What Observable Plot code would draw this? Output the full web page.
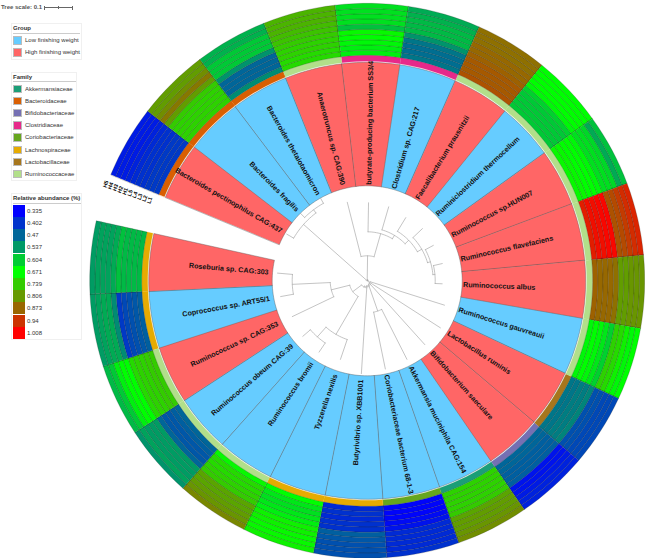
<!DOCTYPE html>
<html>
<head>
<meta charset="utf-8">
<script src="https://cdn.jsdelivr.net/npm/d3@7"></script>
<script src="https://cdn.jsdelivr.net/npm/@observablehq/plot@0.6"></script>
<style>
html,body{margin:0;padding:0;background:#fff}
#wrap{position:relative;width:645px;height:558px;overflow:hidden;font-family:"Liberation Sans",Arial,sans-serif}
#wrap svg{position:absolute;left:0;top:0}
.lg{position:absolute;color:#333;font-size:6px;line-height:1;white-space:nowrap}
.box{position:absolute;border:1px solid #f0f0f0;box-sizing:border-box}
.rule{position:absolute;height:1px;background:#ccc}
.sw{position:absolute;box-sizing:border-box;border:1px solid #bbb}
</style>
</head>
<body>
<div id="wrap"></div>
<script>
// ---------- data ----------
const species = ["Bacteroides pectinophilus CAG:437","Bacteroides fragilis","Bacteroides thetaiotaomicron","Anaerotruncus sp. CAG:390","butyrate-producing bacterium SS3/4","Clostridium sp. CAG:217","Faecalibacterium prausnitzii","Ruminiclostridium thermocellum","Ruminococcus sp.HUN007","Ruminococcus flavefaciens","Ruminococcus albus","Ruminococcus gauvreauii","Lactobacillus ruminis","Bifidobacterium saeculare","Akkermansia muciniphila CAG:154","Coriobacteriaceae bacterium 68-1-3","Butyrivibrio sp. XBB1001","Tyzzerella nexilis","Ruminococcus bromii","Ruminococcus obeum CAG:39","Ruminococcus sp. CAG:353","Coprococcus sp. ART55/1","Roseburia sp. CAG:303"];
const groupNames = ["Low finishing weight","High finishing weight"];
const groupColors = ["#66ccff","#ff6666"];
const groupOf = [1,0,0,1,1,0,1,0,1,1,1,0,1,1,0,0,0,0,0,0,1,0,1];
const familyNames = ["Akkermansiaceae","Bacteroidaceae","Bifidobacteriaceae","Clostridiaceae","Coriobacteriaceae","Lachnospiraceae","Lactobacillaceae","Ruminococcaceae"];
const familyColors = ["#1b9e77","#d95f02","#7570b3","#e7298a","#66a61e","#e6ab02","#a6761d","#b2df8a"];
const familyOf = [1,1,1,7,3,3,7,7,7,7,7,7,6,2,0,4,5,5,7,7,7,5,5];
const abundanceTicks = [0.335,0.402,0.47,0.537,0.604,0.671,0.739,0.806,0.873,0.94,1.008];
const abundanceColors = ["#0000ff","#0033cc","#006699","#009966","#00cc33","#00ff00","#33cc00","#669900","#996600","#cc3300","#ff0000"];
const sampleNames = ["L1","L2","L3","L4","L5","H1","H2","H3","H4","H5"];
// abundance per species, rings from the inside out
const abundance = [
 [.41,.41,.41,.40,.40,.39,.38,.37,.37,.37],
 [.73,.73,.73,.73,.74,.80,.85,.82,.80,.80],
 [.52,.47,.47,.47,.53,.60,.60,.60,.57,.57],
 [.72,.72,.73,.73,.74,.75,.76,.77,.77,.77],
 [.65,.65,.66,.67,.68,.59,.63,.63,.63,.63],
 [.49,.48,.48,.49,.53,.58,.58,.58,.57,.56],
 [.90,.89,.89,.89,.88,.87,.87,.86,.86,.86],
 [.60,.60,.60,.60,.61,.66,.67,.67,.67,.67],
 [.68,.68,.67,.67,.66,.63,.63,.62,.56,.59],
 [.97,.99,.99,1.0,1.0,.90,.91,.93,.95,.96],
 [.88,.87,.87,.87,.86,.80,.80,.81,.81,.81],
 [.66,.67,.66,.64,.61,.73,.72,.69,.66,.67],
 [.49,.49,.50,.50,.51,.44,.44,.43,.43,.43],
 [.47,.47,.46,.46,.46,.36,.36,.37,.38,.38],
 [.73,.73,.73,.73,.74,.79,.80,.80,.81,.82],
 [.34,.34,.34,.35,.36,.39,.39,.39,.39,.40],
 [.39,.40,.39,.40,.40,.46,.45,.44,.44,.44],
 [.67,.64,.63,.64,.65,.69,.69,.68,.68,.69],
 [.68,.72,.72,.73,.74,.79,.79,.80,.81,.83],
 [.47,.46,.45,.45,.47,.54,.54,.54,.55,.53],
 [.74,.74,.73,.73,.72,.67,.67,.65,.60,.58],
 [.46,.45,.44,.43,.41,.52,.56,.56,.55,.54],
 [.58,.58,.58,.58,.59,.56,.55,.55,.55,.54]
];
// tree: leaf index with its tip radius, or [node radius, child, child...]
const L = (i, r) => ({i, r});
const N = (r, ...kids) => ({r, kids});
const tree = N(1,
  N(85, L(0,93), N(89, L(1,95), L(2,95))),
  N(25, L(3,81), N(49, L(4,78), N(53, L(5,77), N(58, L(6,74), N(63, L(7,76), N(66, L(8,75), N(68, L(9,77), L(10,75)))))))),
  N(3, L(11,81), N(4, L(12,87), N(5, L(13,86), N(6, N(32, L(14,88), L(15,90)), N(7, L(16,93),
    N(18, N(37, N(75, L(21,88), L(22,90)), L(20,83)), N(62, L(17,83), N(75, L(18,86), L(19,85))))
  )))))
);

// ---------- polar layout: x is the clockwise bearing in degrees, y the radius ----------
const cx = 366.7, cy = 280.3, startAngle = 292.5, sweep = 350;
const step = sweep / species.length;
const polar = d3.geoTransform({point(a, r) {
  const t = a * Math.PI / 180;
  this.stream.point(cx + r * Math.sin(t), cy - r * Math.cos(t));
}});
const R = {labelIn: 95, labelOut: 218.5, famIn: 219.5, famOut: 225.5, heatIn: 225.5, heatW: 5.2};
function arc(a0, a1, r) {
  const n = Math.max(1, Math.ceil(Math.abs(a1 - a0) / 2));
  return d3.range(n + 1).map(k => [a0 + (a1 - a0) * k / n, r]);
}
function wedge(i, r0, r1, extra) {
  const a0 = startAngle + i * step, a1 = a0 + step;
  return {type: "Feature", properties: {i, ...extra},
    geometry: {type: "Polygon", coordinates: [[...arc(a0, a1, r0), ...arc(a1, a0, r1), [a0, r0]]]}};
}
const mid = i => startAngle + (i + 0.5) * step;
const norm = a => ((a % 360) + 360) % 360;

const labelCells = species.map((s, i) => wedge(i, R.labelIn, R.labelOut, {g: groupOf[i]}));
const famCells = species.map((s, i) => wedge(i, R.famIn, R.famOut, {f: familyOf[i]}));
const heatCells = abundance.flatMap((row, i) => row.map((v, j) =>
  wedge(i, R.heatIn + j * R.heatW, R.heatIn + (j + 1) * R.heatW, {v})));

// tree segments
const segs = [];
let sid = 0;
function place(n) {
  if (n.kids) n.a = d3.mean(n.kids.map(place)); else n.a = mid(n.i);
  return n.a;
}
function walk(n) {
  if (!n.kids) return;
  const as = n.kids.map(k => k.a);
  const id = sid++;
  arc(d3.min(as), d3.max(as), n.r).forEach(([a, r]) => segs.push({a, r, id}));
  for (const k of n.kids) {
    const s = sid++;
    segs.push({a: k.a, r: n.r, id: s}, {a: k.a, r: k.r, id: s});
    walk(k);
  }
}
place(tree);
{ const s = sid++; segs.push({a: tree.a, r: 0, id: s}, {a: tree.a, r: tree.r, id: s}); }
walk(tree);

const labelRows = species.map((s, i) => {
  const a = norm(mid(i));
  return {s, a, right: a < 180, rot: a < 180 ? a - 90 : a + 90};
});
const sampleRows = sampleNames.map((s, j) => ({s, a: 290.3, r: 232 + j * 5.2}));

const chart = Plot.plot({
  width: 645, height: 558, margin: 0,
  projection: polar,
  style: {background: "transparent", fontFamily: "'Liberation Sans',Arial,sans-serif"},
  color: {type: "linear", domain: [0.335, 0.671, 1.008], range: ["#0000ff", "#00ff00", "#ff0000"], interpolate: "rgb"},
  marks: [
    ...groupColors.map((c, k) => Plot.geo(labelCells.filter(d => d.properties.g === k), {fill: c, stroke: "#555", strokeWidth: 0.5, strokeOpacity: 0.8})),
    ...familyColors.map((c, k) => Plot.geo(famCells.filter(d => d.properties.f === k), {fill: c, stroke: c, strokeWidth: 0.2})),
    Plot.geo(heatCells, {fill: d => d.properties.v, stroke: "#222", strokeWidth: 0.5, strokeOpacity: 0.45}),
    Plot.line(segs, {x: "a", y: "r", z: "id", stroke: "#aaa", strokeWidth: 0.7, curve: "auto"}),
    Plot.text(labelRows.filter(d => d.right), {x: "a", y: () => 96, text: "s", rotate: "rot", textAnchor: "start", fontSize: 7.2, fontWeight: 700, fill: "#111"}),
    Plot.text(labelRows.filter(d => !d.right), {x: "a", y: () => 99, text: "s", rotate: "rot", textAnchor: "end", fontSize: 7.2, fontWeight: 700, fill: "#111"}),
    Plot.text(sampleRows, {x: "a", y: "r", text: "s", rotate: -70, fontSize: 5.5, fontWeight: 700, fill: "#000"})
  ]
});
const wrap = document.getElementById("wrap");
wrap.appendChild(chart);

// ---------- legends ----------
function el(cls, css, txt) {
  const d = document.createElement("div");
  d.className = cls;
  d.style.cssText = css;
  if (txt != null) d.textContent = txt;
  wrap.appendChild(d);
  return d;
}
const label = (x, yc, t, extra = "") => el("lg", `left:${x}px;top:${yc - 3}px;${extra}`, t);
label(1, 7, "Tree scale: 0.1", "font-weight:700;color:#555");
el("rule", "left:44px;top:7px;width:28.5px;background:#666");
[44, 58, 72].forEach(x => el("rule", `left:${x}px;top:5.5px;width:1px;height:${x === 58 ? 3 : 4}px;background:#666`));

function title(t, y, w) {
  label(13, y, t, "font-weight:700");
  el("rule", `left:13px;top:${y + 4.5}px;width:${w}px`);
}
el("box", "left:11px;top:23px;width:71px;height:37px");
title("Group", 28, 67);
groupNames.forEach((g, k) => {
  el("sw", `left:13px;top:${36 + k * 12.2}px;width:8.5px;height:8.5px;background:${groupColors[k]}`);
  label(25, 40 + k * 12.2, g);
});
el("box", "left:11px;top:72px;width:66px;height:109px");
title("Family", 76.5, 63);
familyNames.forEach((f, k) => {
  el("sw", `left:13px;top:${84.5 + k * 12.2}px;width:8.5px;height:8.5px;background:${familyColors[k]}`);
  label(25, 88.5 + k * 12.2, f);
});
el("box", "left:11px;top:193px;width:71px;height:147px");
title("Relative abundance (%)", 198, 68);
abundanceTicks.forEach((v, k) => {
  el("", `position:absolute;left:13px;top:${204.7 + k * 12.2}px;width:12px;height:12.2px;background:${abundanceColors[k]}`);
  label(27, 210.8 + k * 12.2, String(v));
});
</script>
</body>
</html>
